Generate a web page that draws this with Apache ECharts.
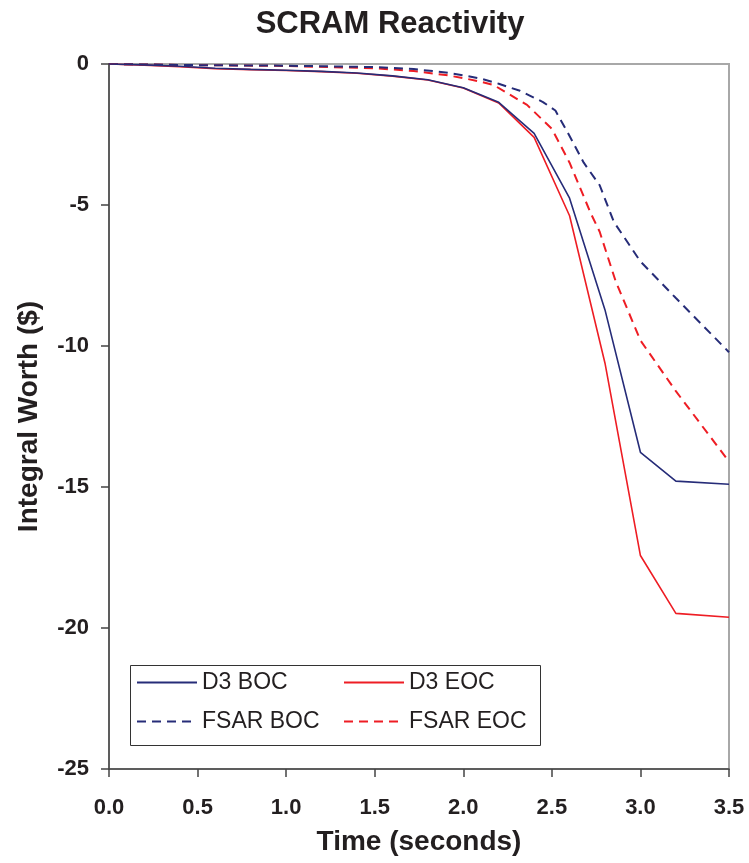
<!DOCTYPE html>
<html>
<head>
<meta charset="utf-8">
<script src="https://cdn.jsdelivr.net/npm/echarts@6/dist/echarts.min.js"></script>
<style>html,body{margin:0;padding:0;background:#fff}#c{width:749px;height:863px}</style>
</head>
<body>
<div id="c"></div>
<script>
// Data
var d3Times = [0, 0.2, 0.4, 0.6, 0.8, 1.0, 1.2, 1.4, 1.6, 1.8, 2.0, 2.2, 2.4, 2.6, 2.8, 3.0, 3.2, 3.5];
var d3Boc = [0, -0.03, -0.08, -0.15, -0.19, -0.22, -0.26, -0.32, -0.42, -0.56, -0.84, -1.36, -2.46, -4.76, -8.72, -13.77, -14.79, -14.9];
var d3Eoc = [0, -0.04, -0.1, -0.17, -0.2, -0.23, -0.27, -0.33, -0.43, -0.57, -0.85, -1.38, -2.6, -5.38, -10.61, -17.43, -19.48, -19.62];

var fsarBocTimes = [0, 0.5, 1.0, 1.5, 1.72, 1.9, 2.0, 2.1, 2.2, 2.32, 2.45, 2.52, 2.6, 2.68, 2.77, 2.85, 3.0, 3.2, 3.5];
var fsarBoc = [0, -0.04, -0.06, -0.11, -0.18, -0.3, -0.4, -0.52, -0.7, -0.95, -1.35, -1.65, -2.55, -3.5, -4.3, -5.6, -7.0, -8.3, -10.22];

var fsarEocTimes = [0, 0.5, 1.0, 1.5, 1.72, 1.9, 2.0, 2.1, 2.17, 2.36, 2.5, 2.6, 2.72, 2.77, 2.86, 3.0, 3.2, 3.5];
var fsarEoc = [0, -0.04, -0.07, -0.15, -0.25, -0.39, -0.5, -0.63, -0.74, -1.45, -2.3, -3.5, -5.3, -5.95, -7.7, -9.8, -11.6, -14.1];

var seriesNames = ['D3 BOC', 'D3 EOC', 'FSAR BOC', 'FSAR EOC'];
var xTicks = { min: 0, max: 3.5, interval: 0.5 };
var yTicks = { min: -25, max: 0, interval: 5 };

function pairs(t, v) { return t.map(function (x, i) { return [x, v[i]]; }); }

var NAVY = '#262c78';
var RED = '#ee1d24';
var FONT = 'Liberation Sans, Arial, sans-serif';

var chart = echarts.init(document.getElementById('c'), null, { renderer: 'canvas' });
var legendText = { fontFamily: FONT, fontSize: 23, color: '#231f20', lineHeight: 25 };
var legendBase = { show: true, orient: 'vertical', top: 670, itemWidth: 60, itemHeight: 14, itemGap: 14, padding: 0,
  textStyle: legendText, itemStyle: { opacity: 0, borderWidth: 0 } };
chart.setOption({
  animation: false,
  backgroundColor: '#fff',
  title: {
    text: 'SCRAM Reactivity', left: 385, textAlign: 'center', top: 4,
    textStyle: { fontFamily: FONT, fontSize: 31, fontWeight: 'bold', color: '#231f20' }
  },
  grid: { left: 109, right: 20, top: 64, bottom: 94, show: true, borderColor: '#a8a8a8', borderWidth: 2, backgroundColor: '#fff' },
  legend: [
    Object.assign({}, legendBase, { data: [seriesNames[0], seriesNames[2]], left: 136 }),
    Object.assign({}, legendBase, { data: [seriesNames[1], seriesNames[3]], left: 343 })
  ],
  graphic: [{
    type: 'rect', left: 128, top: 663, z: 100,
    shape: { width: 410, height: 80 },
    style: { fill: 'none', stroke: '#333', lineWidth: 1 }
  }],
  xAxis: {
    type: 'value', min: xTicks.min, max: xTicks.max, interval: xTicks.interval,
    name: 'Time (seconds)', nameLocation: 'middle', nameGap: 59,
    nameTextStyle: { fontFamily: FONT, fontSize: 28, fontWeight: 'bold', color: '#231f20' },
    axisLine: { onZero: false, lineStyle: { color: '#444', width: 1.5 } },
    axisTick: { inside: false, length: 8, lineStyle: { color: '#444', width: 1.5 } },
    axisLabel: { margin: 28, fontFamily: FONT, fontSize: 22, fontWeight: 'bold', color: '#231f20',
      formatter: function (v) { return v.toFixed(1); } },
    splitLine: { show: false }
  },
  yAxis: {
    type: 'value', min: yTicks.min, max: yTicks.max, interval: yTicks.interval,
    name: 'Integral Worth ($)', nameLocation: 'middle', nameGap: 66, nameRotate: 90,
    nameTextStyle: { fontFamily: FONT, fontSize: 28, fontWeight: 'bold', color: '#231f20' },
    axisLine: { show: true, onZero: false, lineStyle: { color: '#444', width: 1.5 } },
    axisTick: { show: true, inside: false, length: 8, lineStyle: { color: '#444', width: 1.5 } },
    axisLabel: { margin: 20, fontFamily: FONT, fontSize: 22, fontWeight: 'bold', color: '#231f20' },
    splitLine: { show: false }
  },
  series: [
    { name: seriesNames[0], type: 'line', data: pairs(d3Times, d3Boc), showSymbol: false, symbol: 'none',
      lineStyle: { color: NAVY, width: 1.6 }, itemStyle: { color: NAVY }, z: 4 },
    { name: seriesNames[1], type: 'line', data: pairs(d3Times, d3Eoc), showSymbol: false, symbol: 'none',
      lineStyle: { color: RED, width: 1.6 }, itemStyle: { color: RED }, z: 3 },
    { name: seriesNames[2], type: 'line', data: pairs(fsarBocTimes, fsarBoc), showSymbol: false, symbol: 'none',
      lineStyle: { color: NAVY, width: 2, type: [9, 6] }, itemStyle: { color: NAVY }, z: 2 },
    { name: seriesNames[3], type: 'line', data: pairs(fsarEocTimes, fsarEoc), showSymbol: false, symbol: 'none',
      lineStyle: { color: RED, width: 2, type: [9, 6] }, itemStyle: { color: RED }, z: 1 }
  ]
});
</script>
</body>
</html>
